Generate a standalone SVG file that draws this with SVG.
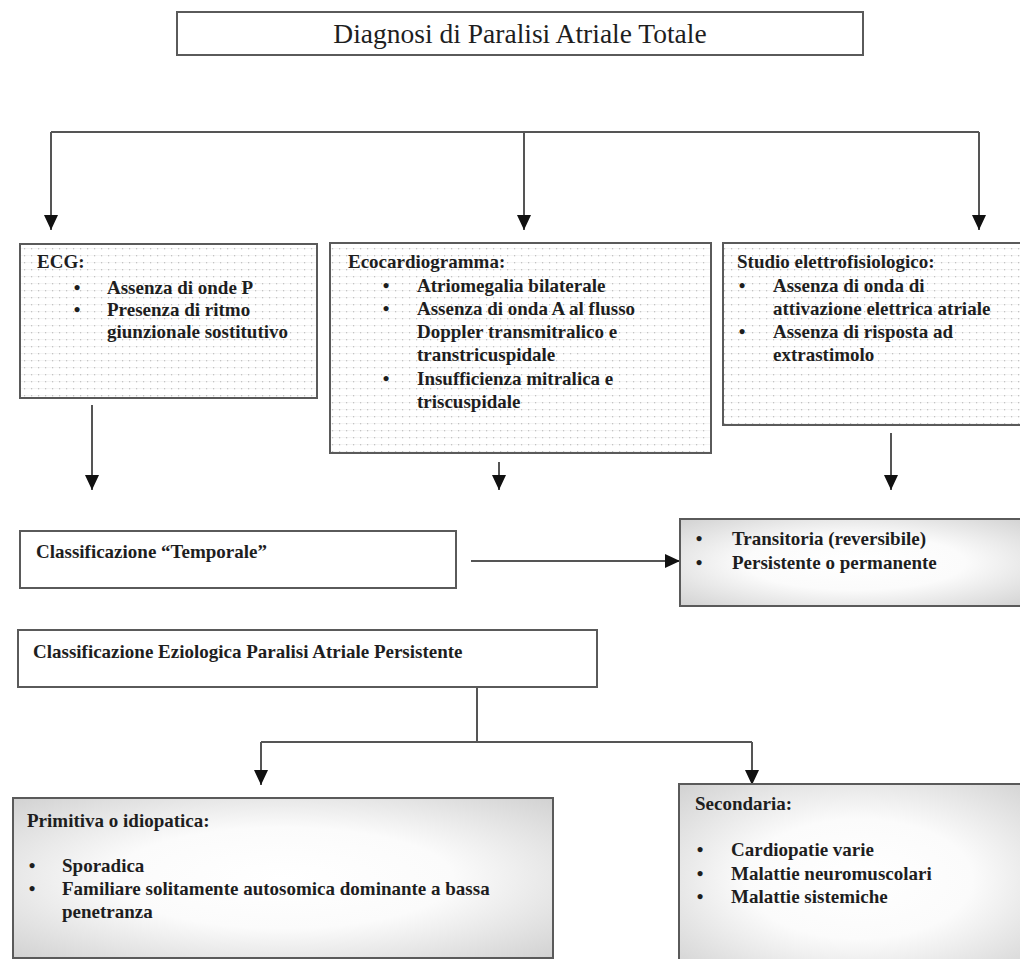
<svg xmlns="http://www.w3.org/2000/svg" width="1020" height="959" viewBox="0 0 1020 959">
<style>
  .box { stroke: #5a5a5a; stroke-width: 2; }
  .plain { fill: #ffffff; }
  .dots { fill: url(#dotPat); }
  .grad { fill: url(#softGrad); }
  .t { font-family: "Liberation Serif", "Times New Roman", serif; font-weight: bold; font-size: 19px; fill: #1e1e1e; }
  .b { font-family: "Liberation Serif", "Times New Roman", serif; font-weight: bold; font-size: 19px; fill: #1e1e1e; text-anchor: middle; }
  .title { font-family: "Liberation Serif", "Times New Roman", serif; font-size: 27.5px; fill: #1e1e1e; text-anchor: middle; }
  .conn { stroke: #555555; stroke-width: 2; fill: none; }
</style>
<defs>
  <pattern id="dotPat" x="0" y="0" width="7" height="7" patternUnits="userSpaceOnUse">
    <rect width="7" height="7" fill="#ffffff"/>
    <rect x="3" y="3" width="1.2" height="1.2" fill="#9a9a9a"/>
    <rect x="0" y="3.3" width="7" height="0.5" fill="#ececec"/>
  </pattern>
  <radialGradient id="softGrad" cx="0.5" cy="0.5" r="0.7">
    <stop offset="0" stop-color="#ffffff"/>
    <stop offset="0.45" stop-color="#fbfbfb"/>
    <stop offset="1" stop-color="#d2d2d2"/>
  </radialGradient>
  <marker id="arr" markerUnits="userSpaceOnUse" markerWidth="16" markerHeight="16" refX="15" refY="7" orient="auto">
    <path d="M0,0 L15,7 L0,14 z" fill="#111111"/>
  </marker>
</defs>

<g id="connectors">
  <path class="conn" d="M51,132 H979"/>
  <line class="conn" x1="51" y1="132" x2="51" y2="230" marker-end="url(#arr)"/>
  <line class="conn" x1="524" y1="132" x2="524" y2="230" marker-end="url(#arr)"/>
  <line class="conn" x1="979" y1="132" x2="979" y2="230" marker-end="url(#arr)"/>
  <line class="conn" x1="92" y1="405" x2="92" y2="490" marker-end="url(#arr)"/>
  <line class="conn" x1="499" y1="462" x2="499" y2="490" marker-end="url(#arr)"/>
  <line class="conn" x1="891" y1="433" x2="891" y2="490" marker-end="url(#arr)"/>
  <line class="conn" x1="471" y1="561" x2="680" y2="561" marker-end="url(#arr)"/>
  <path class="conn" d="M477,687 V742 M261,742 H752"/>
  <line class="conn" x1="261" y1="742" x2="261" y2="785" marker-end="url(#arr)"/>
  <line class="conn" x1="752" y1="742" x2="752" y2="785" marker-end="url(#arr)"/>
</g>

<g id="title">
  <rect class="box plain" x="177" y="12" width="686" height="43"/>
  <text class="title" x="520" y="43">Diagnosi di Paralisi Atriale Totale</text>
</g>

<g id="ecg">
  <rect class="box dots" x="20" y="244" width="297" height="154"/>
  <text class="t" x="37" y="268">ECG:</text>
  <text class="b" x="77" y="294">•</text>
  <text class="t" x="107" y="294">Assenza di onde P</text>
  <text class="b" x="77" y="316">•</text>
  <text class="t" x="107" y="316">Presenza di ritmo</text>
  <text class="t" x="107" y="338">giunzionale sostitutivo</text>
</g>

<g id="eco">
  <rect class="box dots" x="330" y="243" width="381" height="210"/>
  <text class="t" x="348" y="268">Ecocardiogramma:</text>
  <text class="b" x="386" y="292">•</text>
  <text class="t" x="417" y="292">Atriomegalia bilaterale</text>
  <text class="b" x="386" y="315">•</text>
  <text class="t" x="417" y="315">Assenza di onda A al flusso</text>
  <text class="t" x="417" y="338">Doppler transmitralico e</text>
  <text class="t" x="417" y="361">transtricuspidale</text>
  <text class="b" x="386" y="385">•</text>
  <text class="t" x="417" y="385">Insufficienza mitralica e</text>
  <text class="t" x="417" y="408">triscuspidale</text>
</g>

<g id="studio">
  <rect class="box dots" x="723" y="243" width="310" height="182"/>
  <text class="t" x="737" y="268">Studio elettrofisiologico:</text>
  <text class="b" x="742" y="292">•</text>
  <text class="t" x="773" y="292">Assenza di onda di</text>
  <text class="t" x="773" y="315">attivazione elettrica atriale</text>
  <text class="b" x="742" y="338">•</text>
  <text class="t" x="773" y="338">Assenza di risposta ad</text>
  <text class="t" x="773" y="361">extrastimolo</text>
</g>

<g id="temporale">
  <rect class="box plain" x="20" y="531" width="436" height="57"/>
  <text class="t" x="36" y="558">Classificazione “Temporale”</text>
</g>

<g id="transitoria">
  <rect class="box grad" x="680" y="519" width="350" height="87"/>
  <text class="b" x="699" y="545">•</text>
  <text class="t" x="732" y="545">Transitoria (reversibile)</text>
  <text class="b" x="699" y="569">•</text>
  <text class="t" x="732" y="569">Persistente o permanente</text>
</g>

<g id="eziologica">
  <rect class="box plain" x="18" y="630" width="579" height="57"/>
  <text class="t" x="33" y="658">Classificazione Eziologica Paralisi Atriale Persistente</text>
</g>

<g id="primitiva">
  <rect class="box grad" x="13" y="798" width="540" height="160"/>
  <text class="t" x="27" y="827">Primitiva o idiopatica:</text>
  <text class="b" x="32" y="872">•</text>
  <text class="t" x="62" y="872">Sporadica</text>
  <text class="b" x="32" y="895">•</text>
  <text class="t" x="62" y="895">Familiare solitamente autosomica dominante a bassa</text>
  <text class="t" x="62" y="918">penetranza</text>
</g>

<g id="secondaria">
  <rect class="box grad" x="679" y="784" width="360" height="190"/>
  <text class="t" x="695" y="810">Secondaria:</text>
  <text class="b" x="700" y="856">•</text>
  <text class="t" x="731" y="856">Cardiopatie varie</text>
  <text class="b" x="700" y="880">•</text>
  <text class="t" x="731" y="880">Malattie neuromuscolari</text>
  <text class="b" x="700" y="903">•</text>
  <text class="t" x="731" y="903">Malattie sistemiche</text>
</g>
</svg>
